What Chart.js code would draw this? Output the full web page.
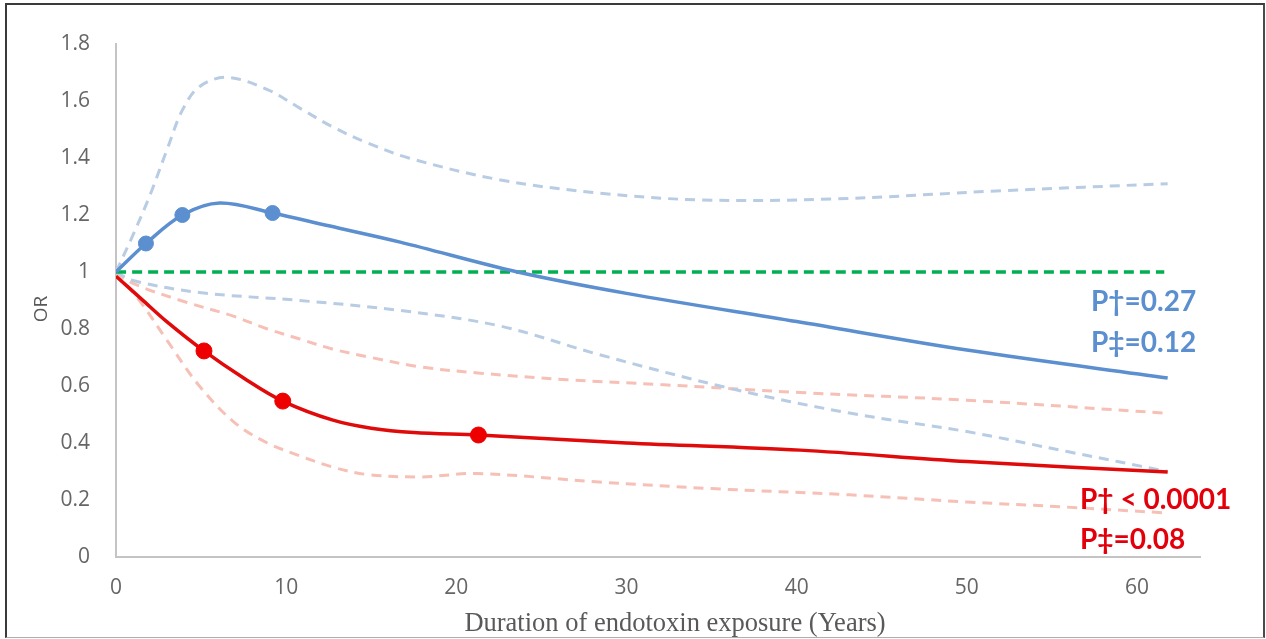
<!DOCTYPE html>
<html>
<head>
<meta charset="utf-8">
<script src="https://cdn.jsdelivr.net/npm/chart.js@4.4.1/dist/chart.umd.min.js"></script>
<style>
  html, body { margin: 0; padding: 0; background: #fff; }
  #wrap { position: relative; width: 1266px; height: 639px; }
  #frame { position: absolute; left: 5px; top: 3px; width: 1256px; height: 632px;
           border-top: 2px solid #3a3a3a; border-left: 2px solid #3a3a3a;
           border-right: 2px solid #4a4a4a; border-bottom: 1px solid #b0b0b0;
           pointer-events: none; }
  canvas { position: absolute; left: 0; top: 0; }
</style>
</head>
<body>
<div id="wrap">
  <canvas id="c" width="1266" height="639"></canvas>
  <div id="frame"></div>
</div>
<script>
// ---- Data ----
const xTicks = [0, 10, 20, 30, 40, 50, 60];
const yTicks = [0, 0.2, 0.4, 0.6, 0.8, 1, 1.2, 1.4, 1.6, 1.8];

// Blue (fitted OR curve) + its observed points
const blueX = [0, 1.76, 3.9, 6.1, 9.2, 12.5, 16.7, 23.6, 30, 40, 50, 61.8];
const blueY = [1.0, 1.10, 1.20, 1.242, 1.207, 1.162, 1.105, 1.0, 0.925, 0.826, 0.726, 0.628];
const blueMarkX = [1.76, 3.9, 9.2];
const blueMarkY = [1.10, 1.20, 1.207];

// Blue confidence bounds
const blueUpX = [0, 1, 2, 3, 3.9, 4.9, 6.5, 8.9, 10.8, 12.7, 14.7, 17.2, 22.6, 28.4, 34.3, 42, 52, 61.8];
const blueUpY = [1.0, 1.13, 1.27, 1.43, 1.568, 1.65, 1.683, 1.64, 1.575, 1.51, 1.455, 1.40, 1.323, 1.277, 1.253, 1.256, 1.285, 1.31];
const blueLoX = [0, 1, 4.9, 10.8, 16.7, 22.6, 28.4, 36.2, 43.1, 50, 55.9, 61.8];
const blueLoY = [1.0, 0.97, 0.928, 0.90, 0.865, 0.81, 0.71, 0.59, 0.505, 0.44, 0.37, 0.30];

// Red (fitted OR curve) + its observed points
const redX = [0, 1.5, 3, 5.17, 7.5, 9.8, 12.75, 15, 17.5, 21.3, 30, 40.2, 50, 61.8];
const redY = [0.985, 0.905, 0.825, 0.723, 0.628, 0.547, 0.48, 0.452, 0.437, 0.428, 0.40, 0.375, 0.335, 0.298];
const redMarkX = [5.17, 9.8, 21.3];
const redMarkY = [0.723, 0.547, 0.428];

// Red confidence bounds
const redUpX = [0, 1, 3.8, 6.9, 8.9, 10.8, 12.7, 15, 17.9, 21.4, 26.5, 32, 40.2, 50, 61.6];
const redUpY = [1.0, 0.96, 0.90, 0.845, 0.80, 0.765, 0.73, 0.70, 0.667, 0.645, 0.622, 0.605, 0.577, 0.55, 0.505];
const redLoX = [0, 1.5, 3, 4.9, 7, 8.9, 10.8, 12.7, 14.7, 17.9, 21.2, 28.4, 35, 43.1, 50, 55.9, 61.6];
const redLoY = [1.0, 0.89, 0.76, 0.60, 0.47, 0.40, 0.355, 0.316, 0.29, 0.281, 0.293, 0.263, 0.24, 0.218, 0.193, 0.175, 0.155];

// Reference line OR = 1
const refX = [0, 61.6];
const refY = [1, 1];

// P-value annotations
const blueNotes = ['P\u2020=0.27', 'P\u2021=0.12'];
const redNotes = ['P\u2020 < 0.0001', 'P\u2021=0.08'];

const xTitle = 'Duration of endotoxin exposure (Years)';
const yTitle = 'OR';

// ---- Build chart ----
const pts = (xs, ys) => xs.map((x, i) => ({ x: x, y: ys[i] }));

const lineDs = (xs, ys, color, width, dash, order) => ({
  type: 'line',
  data: pts(xs, ys),
  borderColor: color,
  backgroundColor: color,
  borderWidth: width,
  borderDash: dash,
  pointRadius: 0,
  pointHoverRadius: 0,
  fill: false,
  tension: 0.35,
  order: order
});

const markDs = (xs, ys, color, r) => ({
  type: 'scatter',
  data: pts(xs, ys),
  borderColor: color,
  backgroundColor: color,
  pointRadius: r,
  pointHoverRadius: r,
  showLine: false,
  order: 0
});

const annotate = {
  id: 'annotate',
  afterDraw(chart) {
    const ctx = chart.ctx;
    ctx.save();
    ctx.textBaseline = 'middle';
    ctx.textAlign = 'left';
    ctx.font = 'bold 28px Lato, "Open Sans", sans-serif';
    ctx.fillStyle = '#5b8fcf';
    ctx.fillText(blueNotes[0], 1091, 302);
    ctx.fillText(blueNotes[1], 1091, 343);
    ctx.fillStyle = '#e4000b';
    ctx.fillText(redNotes[0], 1080, 500);
    ctx.fillText(redNotes[1], 1080, 540);

    // axis titles
    ctx.fillStyle = '#595959';
    ctx.textAlign = 'center';
    ctx.textBaseline = 'alphabetic';
    ctx.font = '26.5px "Liberation Serif", "Times New Roman", serif';
    ctx.fillText(xTitle, 675, 631);
    ctx.translate(42, 309);
    ctx.rotate(-Math.PI / 2);
    ctx.textBaseline = 'middle';
    ctx.font = '19px "Open Sans", sans-serif';
    ctx.fillText(yTitle, 0, 0);
    ctx.restore();
  }
};

new Chart(document.getElementById('c'), {
  type: 'scatter',
  data: {
    datasets: [
      markDs(blueMarkX, blueMarkY, '#5b8fcf', 7.5),
      markDs(redMarkX, redMarkY, '#ee0000', 8),
      lineDs(blueX, blueY, '#5b8fcf', 3.5, [], 1),
      lineDs(redX, redY, '#e00a0a', 3.5, [], 1),
      lineDs(refX, refY, '#00b050', 3.5, [10, 6], 2),
      lineDs(blueUpX, blueUpY, '#b8cce3', 3, [10, 7], 3),
      lineDs(blueLoX, blueLoY, '#b8cce3', 3, [10, 7], 3),
      lineDs(redUpX, redUpY, '#f6c0b6', 3, [10, 7], 3),
      lineDs(redLoX, redLoY, '#f6c0b6', 3, [10, 7], 3)
    ]
  },
  options: {
    responsive: false,
    animation: false,
    devicePixelRatio: 1,
    layout: { padding: { top: 44, right: 66, left: 0, bottom: 0 } },
    plugins: { legend: { display: false }, tooltip: { enabled: false } },
    events: [],
    scales: {
      x: {
        type: 'linear',
        min: 0,
        max: 63.7,
        afterFit: (s) => { s.height = 82; },
        afterBuildTicks: (s) => { s.ticks = xTicks.map(v => ({ value: v })); },
        ticks: { font: { size: 21, family: '"Open Sans", sans-serif' }, color: '#666', padding: 18, maxRotation: 0, autoSkip: false, includeBounds: false },
        grid: { display: false, drawTicks: false },
        border: { display: true, color: '#c4c4c4', width: 2 }
      },
      y: {
        type: 'linear',
        min: 0,
        max: 1.8,
        afterFit: (s) => { s.width = 116; },
        afterBuildTicks: (s) => { s.ticks = yTicks.map(v => ({ value: v })); },
        ticks: { font: { size: 21, family: '"Open Sans", sans-serif' }, color: '#666', padding: 26, autoSkip: false,
                 callback: (v) => String(Math.round(v * 10) / 10) },
        grid: { display: false, drawTicks: false },
        border: { display: true, color: '#c4c4c4', width: 2 }
      }
    }
  },
  plugins: [annotate]
});
</script>
</body>
</html>
